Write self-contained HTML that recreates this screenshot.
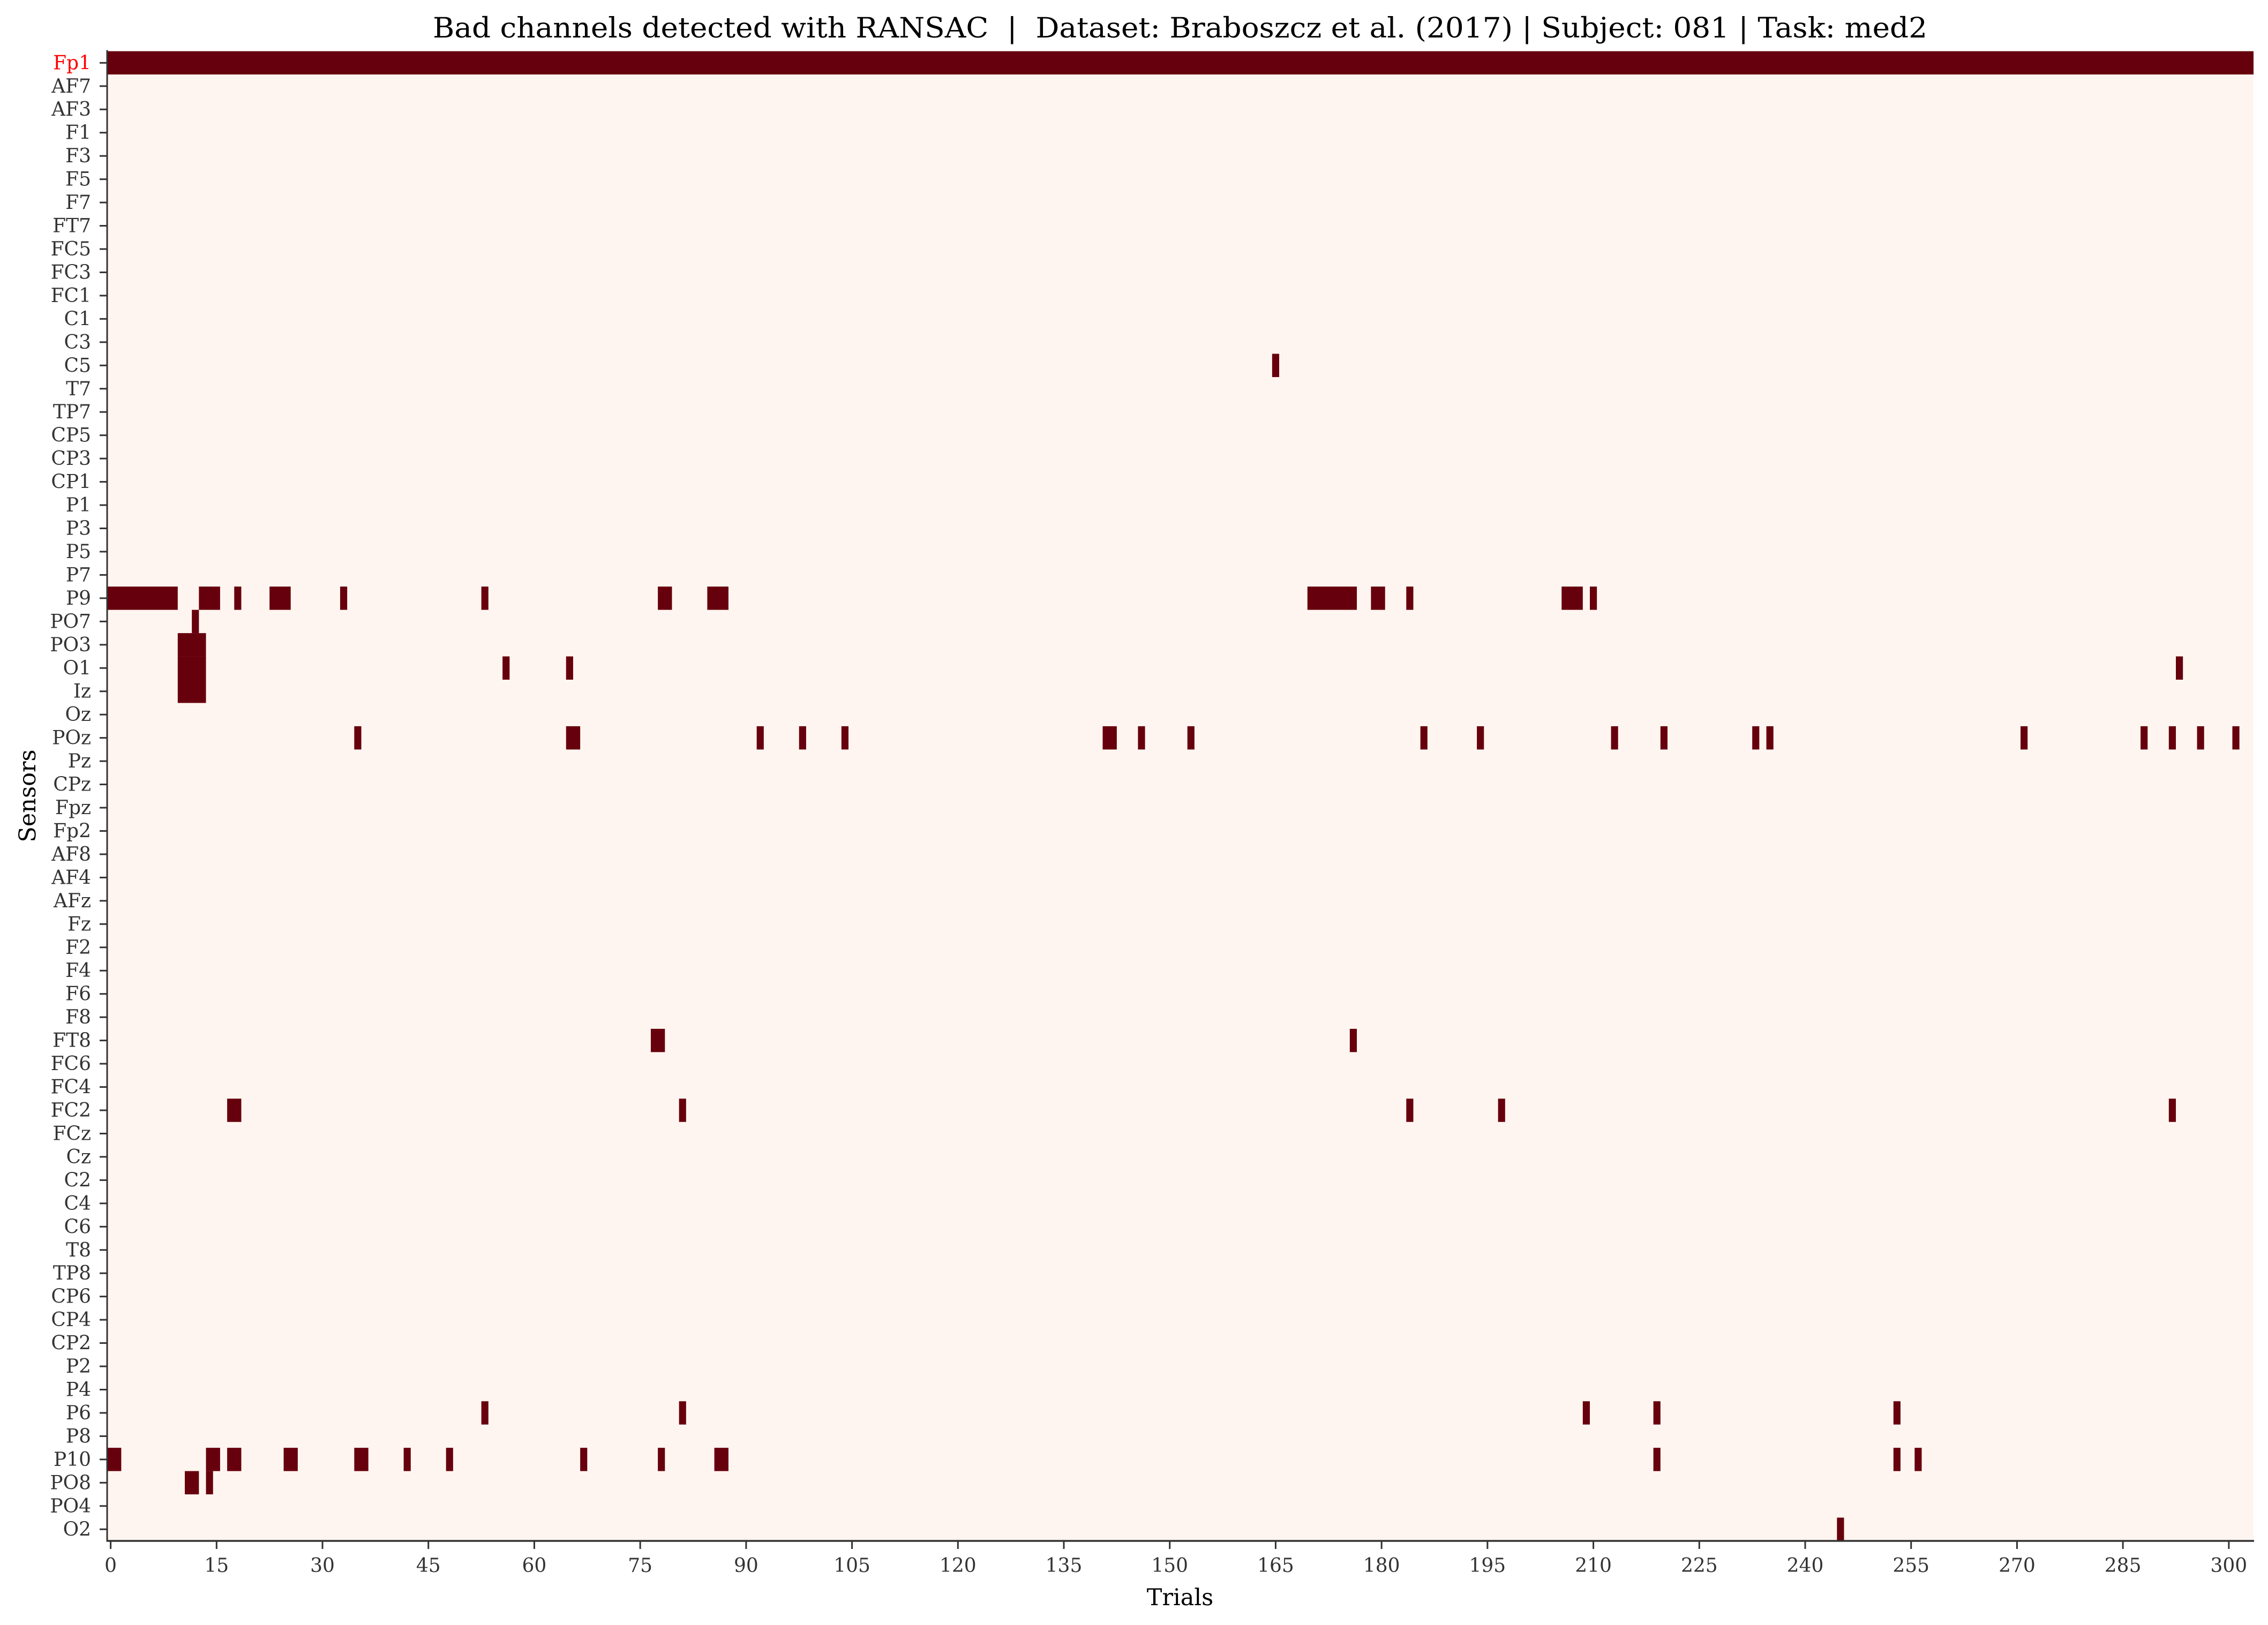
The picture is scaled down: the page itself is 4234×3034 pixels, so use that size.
<!DOCTYPE html>
<html><head><meta charset="utf-8"><style>
html,body{margin:0;padding:0;background:#fff;}
svg{display:block;font-family:"DejaVu Serif","Liberation Serif",serif;}
.pre{white-space:pre;}
</style></head><body>
<svg id="chart" xmlns="http://www.w3.org/2000/svg" width="4234" height="3034" viewBox="0 0 4234 3034">
<rect width="4234" height="3034" fill="#ffffff"/>
<text class="pre" xml:space="preserve" x="2203" y="70" font-size="52" text-anchor="middle" fill="#000" textLength="2790" lengthAdjust="spacingAndGlyphs">Bad channels detected with RANSAC  |  Dataset: Braboszcz et al. (2017) | Subject: 081 | Task: med2</text>
<g id="plot"></g>
<text x="2203" y="2997" font-size="43" text-anchor="middle" fill="#000">Trials</text>
<text x="0" y="0" font-size="43" text-anchor="middle" fill="#000" transform="translate(66,1486) rotate(-90)">Sensors</text>
</svg>
<script>
const channels = ["Fp1","AF7","AF3","F1","F3","F5","F7","FT7","FC5","FC3","FC1","C1","C3","C5","T7","TP7","CP5","CP3","CP1","P1","P3","P5","P7","P9","PO7","PO3","O1","Iz","Oz","POz","Pz","CPz","Fpz","Fp2","AF8","AF4","AFz","Fz","F2","F4","F6","F8","FT8","FC6","FC4","FC2","FCz","Cz","C2","C4","C6","T8","TP8","CP6","CP4","CP2","P2","P4","P6","P8","P10","PO8","PO4","O2"];
const badChannels = ["Fp1"];
const nTrials = 304;
const xTicks = [0,15,30,45,60,75,90,105,120,135,150,165,180,195,210,225,240,255,270,285,300];
// bad-segment runs: channel, first trial, last trial (inclusive)
const eventChannel = [
 "Fp1",
 "C5",
 "P9","P9","P9","P9","P9","P9","P9","P9","P9","P9","P9","P9","P9",
 "PO7",
 "PO3",
 "O1","O1","O1","O1",
 "Iz",
 "POz","POz","POz","POz","POz","POz","POz","POz","POz","POz","POz","POz","POz","POz","POz","POz","POz","POz","POz",
 "FT8","FT8",
 "FC2","FC2","FC2","FC2","FC2",
 "P6","P6","P6","P6","P6",
 "P10","P10","P10","P10","P10","P10","P10","P10","P10","P10","P10","P10","P10",
 "PO8","PO8",
 "O2"];
const eventStart = [
 0,
 165,
 0,13,18,23,33,53,78,85,170,179,184,206,210,
 12,
 10,
 10,56,65,293,
 10,
 35,65,92,98,104,141,146,153,186,194,213,220,233,235,271,288,292,296,301,
 77,176,
 17,81,184,197,292,
 53,81,209,219,253,
 0,14,17,25,35,42,48,67,78,86,219,253,256,
 11,14,
 245];
const eventEnd = [
 303,
 165,
 9,15,18,25,33,53,79,87,176,180,184,208,210,
 12,
 13,
 13,56,65,293,
 13,
 35,66,92,98,104,142,146,153,186,194,213,220,233,235,271,288,292,296,301,
 78,176,
 18,81,184,197,292,
 53,81,209,219,253,
 1,15,18,26,36,42,48,67,78,87,219,253,256,
 12,14,
 245];

const NS = "http://www.w3.org/2000/svg";
const plot = document.getElementById("plot");
const L = 200, R = 4207, T = 95.6, B = 2877;
const cellW = (R - L) / nTrials;
const rowH = (B - T) / channels.length;
function xScale(t){ return L + (t + 0.5) * cellW; }
function yRow(i){ return T + i * rowH; }
function mk(tag, attrs){ const e = document.createElementNS(NS, tag); for (const k in attrs) e.setAttribute(k, attrs[k]); return e; }

const bg = mk("rect", {x:L, y:T, width:R-L, height:B-T, fill:"#fff5f0"});


plot.appendChild(bg);

for (let k = 0; k < eventChannel.length; k++) {
  const ci = channels.indexOf(eventChannel[k]);
  const x0 = xScale(eventStart[k]) - cellW/2;
  const x1 = xScale(eventEnd[k]) + cellW/2;
  const r = mk("rect", {x:x0.toFixed(2), y:yRow(ci).toFixed(2), width:(x1-x0).toFixed(2), height:rowH.toFixed(2), fill:"#67000d"});
  
  
  plot.appendChild(r);
}

for (let i = 0; i < channels.length; i++) {
  const yc = yRow(i) + rowH/2;
  const tk = mk("line", {x1:L-14, x2:L, y1:yc, y2:yc, stroke:"#333", "stroke-width":3});
  
  
  plot.appendChild(tk);
  const lb = mk("text", {x:L-30, y:yc+12, "font-size":36, "text-anchor":"end", fill: badChannels.includes(channels[i]) ? "#ff0000" : "#333"});
  lb.textContent = channels[i];
  
  
  plot.appendChild(lb);
}
for (const t of xTicks) {
  const xc = xScale(t);
  const tk = mk("line", {x1:xc, x2:xc, y1:B, y2:B+15, stroke:"#333", "stroke-width":3});
  
  
  plot.appendChild(tk);
  const lb = mk("text", {x:xc, y:2935, "font-size":36, "text-anchor":"middle", fill:"#333"});
  lb.textContent = t;
  
  
  plot.appendChild(lb);
}
const ls = mk("line", {x1:L, x2:L, y1:T-2, y2:B+1, stroke:"#333", "stroke-width":3});


plot.appendChild(ls);
const bs = mk("line", {x1:L-1, x2:R+1, y1:B, y2:B, stroke:"#333", "stroke-width":3.5});


plot.appendChild(bs);
</script>
</body></html>
